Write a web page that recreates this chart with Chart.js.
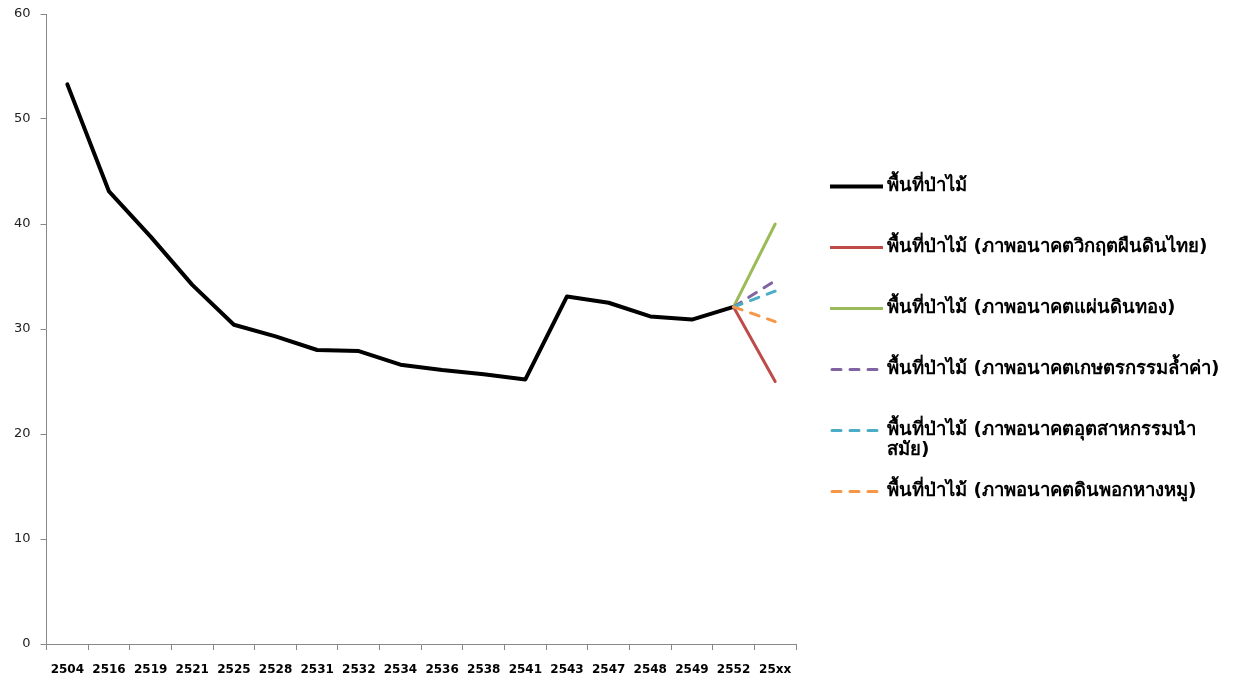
<!DOCTYPE html>
<html>
<head>
<meta charset="utf-8">
<script src="https://cdn.jsdelivr.net/npm/chart.js@4.4.1/dist/chart.umd.min.js"></script>
<style>
  html, body { margin: 0; padding: 0; background: #fff; }
  #forestChart { display: block; }
</style>
</head>
<body>
<canvas id="forestChart" width="1238" height="682"></canvas>
<script>
// ปี พ.ศ. บนแกน x
const years = ['2504', '2516', '2519', '2521', '2525', '2528', '2531', '2532', '2534',
    '2536', '2538', '2541', '2543', '2547', '2548', '2549', '2552', '25xx'];

// ร้อยละของพื้นที่ป่าไม้ที่ผ่านมา
const forestArea = [53.3, 43.1, 38.8, 34.2, 30.4, 29.3, 28.0, 27.9, 26.6,
    26.1, 25.7, 25.2, 33.1, 32.5, 31.2, 30.9, 32.1, null];

// ภาพอนาคต: จากปี 2552 ไปปี 25xx
const start2552 = 32.1;
const crisisFuture = [start2552, 25.0];
const goldenFuture = [start2552, 40.0];
const agriFuture = [start2552, 34.6];
const industryFuture = [start2552, 33.6];
const pigtailFuture = [start2552, 30.7];

// ชื่อชุดข้อมูล (แบบ array = ตัดบรรทัดในคำอธิบาย)
const seriesNames = [
    'พื้นที่ป่าไม้',
    'พื้นที่ป่าไม้ (ภาพอนาคตวิกฤตผืนดินไทย)',
    'พื้นที่ป่าไม้ (ภาพอนาคตแผ่นดินทอง)',
    'พื้นที่ป่าไม้ (ภาพอนาคตเกษตรกรรมล้ำค่า)',
    ['พื้นที่ป่าไม้ (ภาพอนาคตอุตสาหกรรมนำ', 'สมัย)'],
    'พื้นที่ป่าไม้ (ภาพอนาคตดินพอกหางหมู)'
];

const yTicks = [0, 10, 20, 30, 40, 50, 60];

// วางค่าภาพอนาคตไว้ที่สองตำแหน่งสุดท้ายของแกน
const future = (pair) => years.map((_, i) => i === years.length - 2 ? pair[0] : (i === years.length - 1 ? pair[1] : null));

const lineSet = (label, data, color, width, dash, order) => ({
    label: label,
    data: data,
    borderColor: color,
    backgroundColor: color,
    borderWidth: width,
    borderDash: dash,
    borderCapStyle: 'round',
    borderJoinStyle: 'round',
    pointRadius: 0,
    pointHoverRadius: 0,
    tension: 0,
    fill: false,
    order: order
});

const baseFont = 'Tahoma, "DejaVu Sans", sans-serif';

// คำอธิบายด้านขวา วาดเองเพื่อให้ระยะห่างแต่ละแถวเท่ากัน
const sideLegend = {
    id: 'sideLegend',
    afterDraw(chart) {
        const { ctx, chartArea } = chart;
        const rowStep = 61;
        const wrapStep = 20;
        const lineX = chartArea.right + 34;
        const lineW = 53;
        const textX = lineX + lineW + 4;
        const sets = chart.data.datasets;
        let y = chart.height / 2 - rowStep * (sets.length - 1) / 2 - 2;

        ctx.save();
        sets.forEach((ds) => {
            ctx.strokeStyle = ds.borderColor;
            ctx.lineWidth = ds.borderWidth;
            ctx.lineCap = ds.borderDash.length ? 'round' : 'butt';
            ctx.setLineDash(ds.borderDash);
            ctx.beginPath();
            ctx.moveTo(lineX + (ds.borderDash.length ? 2 : 0), y);
            ctx.lineTo(lineX + lineW, y);
            ctx.stroke();

            ctx.setLineDash([]);
            ctx.fillStyle = '#000';
            ctx.font = 'bold 18.5px ' + baseFont;
            ctx.textBaseline = 'middle';
            ctx.textAlign = 'left';
            const lines = Array.isArray(ds.label) ? ds.label : [ds.label];
            lines.forEach((t, k) => ctx.fillText(t, textX, y + k * wrapStep));
            y += rowStep;
        });
        ctx.restore();
    }
};

const ctx = document.getElementById('forestChart');
new Chart(ctx, {
    type: 'line',
    data: {
        labels: years,
        datasets: [
            lineSet(seriesNames[0], forestArea, '#000000', 4, [], 6),
            lineSet(seriesNames[1], future(crisisFuture), '#BE4B48', 3, [], 5),
            lineSet(seriesNames[2], future(goldenFuture), '#9BBB59', 3, [], 4),
            lineSet(seriesNames[3], future(agriFuture), '#8064A2', 3, [9, 9], 3),
            lineSet(seriesNames[4], future(industryFuture), '#4BACC6', 3, [9, 9], 2),
            lineSet(seriesNames[5], future(pigtailFuture), '#F79646', 3, [9, 9], 1)
        ]
    },
    options: {
        responsive: false,
        animation: false,
        layout: { padding: { top: 0, right: 442, bottom: 0, left: 4 } },
        plugins: {
            tooltip: { enabled: false },
            legend: { display: false }
        },
        scales: {
            x: {
                offset: true,
                afterFit: (scale) => { scale.height = 38; },
                grid: {
                    offset: true,
                    drawOnChartArea: false,
                    drawTicks: true,
                    tickLength: 6,
                    color: '#888'
                },
                border: { display: true, color: '#888', width: 1 },
                ticks: {
                    autoSkip: false,
                    maxRotation: 0,
                    padding: 13,
                    color: '#000',
                    font: { family: baseFont, size: 12, weight: 'bold' }
                }
            },
            y: {
                min: 0,
                max: 60,
                afterBuildTicks: (axis) => { axis.ticks = yTicks.map(v => ({ value: v })); },
                afterFit: (scale) => { scale.paddingTop = 14; },
                grid: {
                    drawOnChartArea: false,
                    drawTicks: true,
                    tickLength: 6,
                    color: '#888'
                },
                border: { display: true, color: '#888', width: 1 },
                ticks: {
                    padding: 10,
                    color: '#222',
                    font: { family: baseFont, size: 13 }
                }
            }
        }
    },
    plugins: [sideLegend]
});
</script>
</body>
</html>
